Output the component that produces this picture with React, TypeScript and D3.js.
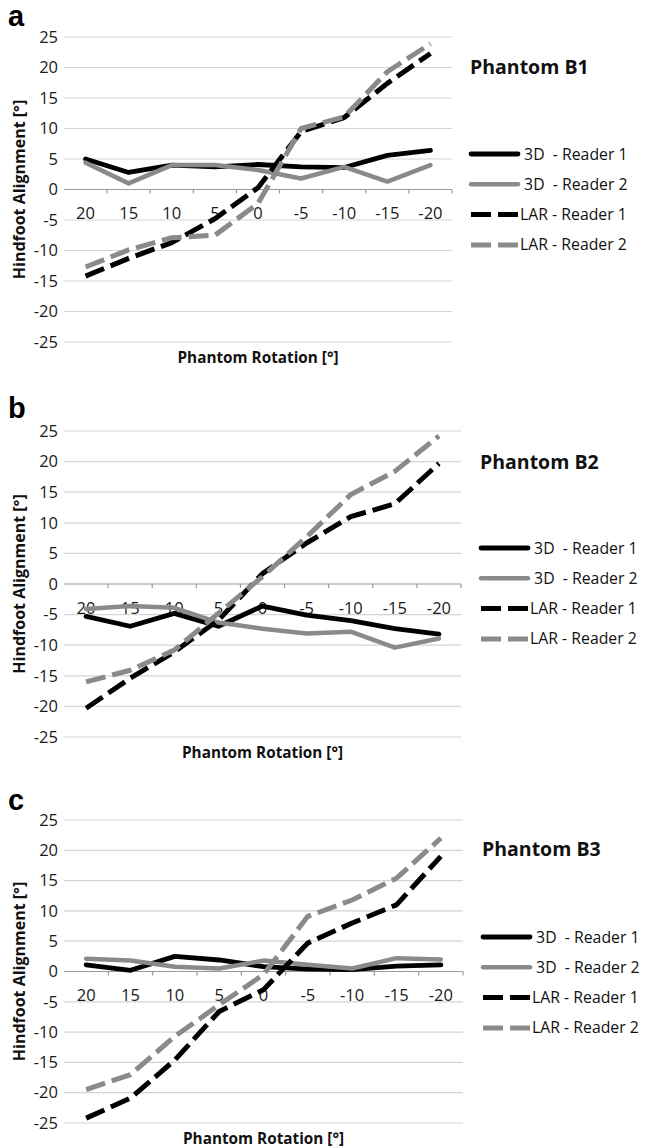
import React from 'react';
import * as d3 from 'd3';

// categories on the x axis (phantom rotation, degrees)
const rotations = ['20', '15', '10', '5', '0', '-5', '-10', '-15', '-20'];
const yTicks = [25, 20, 15, 10, 5, 0, -5, -10, -15, -20, -25];
const seriesLabels = [' 3D  - Reader 1', ' 3D  - Reader 2', 'LAR - Reader 1', 'LAR - Reader 2'];

// Phantom B1
const b1_3dReader1 = [5.0, 2.8, 4.0, 3.7, 4.1, 3.7, 3.6, 5.6, 6.4];
const b1_3dReader2 = [4.4, 1.0, 4.0, 4.0, 3.2, 1.8, 3.7, 1.3, 4.0];
const b1_larReader1 = [-14.2, -11.3, -8.7, -4.8, 0.3, 9.5, 11.8, 17.4, 22.3];
const b1_larReader2 = [-12.7, -9.9, -7.9, -7.5, -2.3, 10.0, 11.9, 19.3, 23.9];

// Phantom B2
const b2_3dReader1 = [-5.3, -6.9, -4.8, -6.9, -3.6, -5.1, -6.0, -7.3, -8.2];
const b2_3dReader2 = [-4.1, -3.6, -3.9, -6.3, -7.3, -8.1, -7.8, -10.4, -8.9];
const b2_larReader1 = [-20.3, -15.4, -11.1, -5.9, 1.7, 6.7, 11.0, 13.1, 19.7];
const b2_larReader2 = [-16.0, -14.1, -10.8, -4.8, 1.2, 7.7, 14.6, 18.4, 24.2];

// Phantom B3
const b3_3dReader1 = [1.1, 0.2, 2.5, 1.9, 0.8, 0.4, 0.3, 0.9, 1.1];
const b3_3dReader2 = [2.1, 1.8, 0.8, 0.5, 1.8, 1.1, 0.5, 2.2, 2.0];
const b3_larReader1 = [-24.2, -20.9, -14.6, -6.6, -3.0, 4.7, 8.0, 11.0, 19.0];
const b3_larReader2 = [-19.5, -17.0, -10.7, -5.5, -0.5, 9.1, 11.8, 15.4, 22.0];

const styles = [
  { color: '#000', width: 4.8, dash: undefined },
  { color: '#8a8a8a', width: 4.5, dash: undefined },
  { color: '#000', width: 5, dash: '20 7' },
  { color: '#8a8a8a', width: 5, dash: '20 7' },
];

const FONT = '"Open Sans", sans-serif';

type PanelProps = {
  letter: string;
  title: string;
  series: number[][];
  top: number;
  bottom: number;
  right: number;
  legendX: number;
  titleY: number;
  legendY: number;
  letterY: number;
};

const Panel = ({ letter, title, series, top, bottom, right, legendX, titleY, legendY, letterY }: PanelProps) => {
  const left = 64;
  const x = d3.scaleBand<string>().domain(rotations).range([left, right]);
  const y = d3.scaleLinear().domain([-25, 25]).range([bottom, top]);
  const cx = (c: string) => (x(c) ?? 0) + x.bandwidth() / 2;
  const line = d3
    .line<number>()
    .x((_, i) => cx(rotations[i]))
    .y((d) => y(d));
  const y0 = y(0);

  return (
    <g>
      <text x={8} y={letterY} fontFamily="Liberation Sans, Arial, sans-serif" fontWeight="bold" fontSize={29}>
        {letter}
      </text>
      {yTicks.map((t) => (
        <g key={t}>
          {t !== 0 && <line x1={left} x2={right} y1={y(t)} y2={y(t)} stroke="#d4d4d4" strokeWidth={1.2} />}
          <text x={58} y={y(t)} dy="0.35em" textAnchor="end" fontFamily={FONT} fontSize={16.5} fill="#1a1a1a">
            {t}
          </text>
        </g>
      ))}
      {/* category axis through zero */}
      <line x1={left} x2={right} y1={y0} y2={y0} stroke="#9a9a9a" strokeWidth={1.2} />
      {rotations.map((c) => (
        <line
          key={'tk' + c}
          x1={(x(c) ?? 0) + x.bandwidth()}
          x2={(x(c) ?? 0) + x.bandwidth()}
          y1={y0}
          y2={y0 + 4}
          stroke="#9a9a9a"
          strokeWidth={1.2}
        />
      ))}
      {rotations.map((c) => (
        <text key={'xl' + c} x={cx(c)} y={y0 + 24} dy="0.35em" textAnchor="middle" fontFamily={FONT} fontSize={16.5} fill="#1a1a1a">
          {c}
        </text>
      ))}
      {series.map((s, i) => (
        <path
          key={'s' + i}
          d={line(s) ?? ''}
          fill="none"
          stroke={styles[i].color}
          strokeWidth={styles[i].width}
          strokeDasharray={styles[i].dash}
          strokeLinejoin="round"
          strokeLinecap={styles[i].dash ? 'butt' : 'round'}
        />
      ))}
      <text
        transform={`translate(19,${(top + bottom) / 2}) rotate(-90)`}
        textAnchor="middle"
        dy="0.35em"
        fontFamily={FONT}
        fontWeight="bold"
        fontSize={16}
        fill="#111"
      >
        Hindfoot Alignment [°]
      </text>
      <text x={(left + right) / 2} y={bottom + 16} dy="0.35em" textAnchor="middle" fontFamily={FONT} fontWeight="bold" fontSize={15.3} fill="#111">
        Phantom Rotation [°]
      </text>
      <text x={legendX} y={titleY} dy="0.35em" fontFamily={FONT} fontWeight="bold" fontSize={19.5} fill="#111">
        {title}
      </text>
      {seriesLabels.map((lab, i) => (
        <g key={'lg' + i}>
          <line
            x1={legendX + 1}
            x2={legendX + 48}
            y1={legendY + i * 30.3}
            y2={legendY + i * 30.3}
            stroke={styles[i].color}
            strokeWidth={styles[i].width}
            strokeDasharray={styles[i].dash ? '20 7' : undefined}
            strokeLinecap={styles[i].dash ? 'butt' : 'round'}
          />
          <text
            x={legendX + 50}
            y={legendY + i * 30.3}
            dy="0.35em"
            fontFamily={FONT}
            fontSize={15.8}
            fill="#111"
            style={{ whiteSpace: 'pre' }}
          >
            {lab}
          </text>
        </g>
      ))}
    </g>
  );
};

export default function App() {
  return (
    <svg width={647} height={1148} style={{ position: 'absolute', left: 0, top: 0, background: '#fff' }}>
      <rect width={647} height={1148} fill="#fff" />
      <Panel
        letter="a"
        title="Phantom B1"
        series={[b1_3dReader1, b1_3dReader2, b1_larReader1, b1_larReader2]}
        top={37}
        bottom={342}
        right={452}
        legendX={470}
        titleY={67}
        legendY={154}
        letterY={26}
      />
      <Panel
        letter="b"
        title="Phantom B2"
        series={[b2_3dReader1, b2_3dReader2, b2_larReader1, b2_larReader2]}
        top={431}
        bottom={737}
        right={461}
        legendX={480}
        titleY={462}
        legendY={548}
        letterY={418}
      />
      <Panel
        letter="c"
        title="Phantom B3"
        series={[b3_3dReader1, b3_3dReader2, b3_larReader1, b3_larReader2]}
        top={820}
        bottom={1123}
        right={463}
        legendX={482}
        titleY={849}
        legendY={937}
        letterY={810}
      />
    </svg>
  );
}
